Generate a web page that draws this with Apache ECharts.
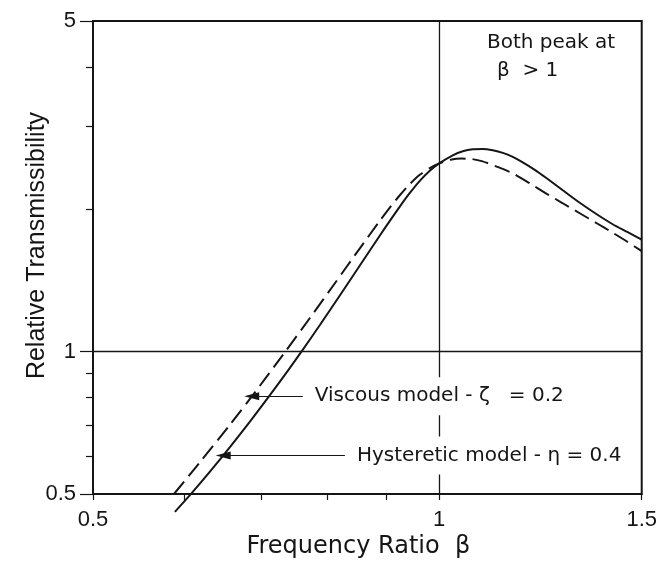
<!DOCTYPE html>
<html>
<head>
<meta charset="utf-8">
<script src="https://cdn.jsdelivr.net/npm/echarts@6/dist/echarts.min.js"></script>
<style>
  html, body { margin: 0; padding: 0; background: #fff; }
  #chart { width: 660px; height: 567px; }
</style>
</head>
<body>
<div id="chart"></div>
<script>
// Hysteretic model (eta = 0.4): frequency ratio and relative transmissibility
const hystBeta = [0.5891, 0.6095, 0.6319, 0.6577, 0.6846, 0.7125, 0.7416, 0.7619, 0.7875, 0.8196, 0.8531, 0.8880,
                  0.9059, 0.9242, 0.9429, 0.9619, 0.9814, 1.0000, 1.0276, 1.0484, 1.0696, 1.0912, 1.1133, 1.1358,
                  1.1587, 1.1821, 1.2109, 1.2402, 1.2807, 1.3250, 1.3708, 1.4154, 1.4586, 1.5000];
const hystT    = [0.4584, 0.5027, 0.5573, 0.6281, 0.7113, 0.8088, 0.9240, 1.0134, 1.1383, 1.3145, 1.5209, 1.7597,
                  1.8900, 2.0261, 2.1647, 2.2968, 2.4125, 2.5009, 2.6000, 2.6511, 2.6770, 2.6809, 2.6640, 2.6318,
                  2.5811, 2.5131, 2.4230, 2.3249, 2.1932, 2.0638, 1.9516, 1.8590, 1.7881, 1.7241];

// Viscous model (zeta = 0.2)
const viscBeta = [0.5880, 0.6194, 0.6577, 0.6915, 0.7342, 0.7719, 0.8115, 0.8531, 0.8880, 0.9059, 0.9242, 0.9429,
                  0.9619, 0.9814, 1.0000, 1.0256, 1.0463, 1.0674, 1.0890, 1.1222, 1.1587, 1.1988, 1.2402, 1.2807,
                  1.3250, 1.3708, 1.4154, 1.4586, 1.5000];
const viscT    = [0.5000, 0.5836, 0.7004, 0.8202, 0.9973, 1.1777, 1.3948, 1.6535, 1.8910, 2.0163, 2.1406, 2.2603,
                  2.3648, 2.4443, 2.5009, 2.5488, 2.5587, 2.5537, 2.5277, 2.4610, 2.3822, 2.2692, 2.1562, 2.0589,
                  1.9611, 1.8681, 1.7837, 1.7049, 1.6304];

// Axis ticks and labels
const xLabels = [0.5, 1, 1.5];
const xTicks = [0.5, 0.6, 0.7, 0.8, 0.9, 1, 1.5];
const yLabels = [0.5, 1, 5];
const yMinorTicks = [0.6, 0.7, 0.8, 0.9, 2, 3, 4];

// Leader lines: from the label end [beta, T] to the tip on the curve
const viscLeader = { name: 'Viscous model - ζ   = 0.2', from: [0.761, 0.805], to: [0.687, 0.805] };
const hystLeader = { name: 'Hysteretic model - η = 0.4', from: [0.828, 0.603], to: [0.6489, 0.603] };

const ink = '#151515';
const pairs = (xs, ys) => xs.map((x, i) => [x, ys[i]]);

const chart = echarts.init(document.getElementById('chart'), null, { renderer: 'canvas' });

chart.setOption({
  backgroundColor: '#ffffff',
  animation: false,
  grid: {
    left: 93, right: 18, top: 21, bottom: 73,
    show: true, borderColor: ink, borderWidth: 2, backgroundColor: 'transparent'
  },
  xAxis: {
    type: 'log', logBase: 10, min: 0.5, max: 1.5,
    name: 'Frequency Ratio  β', nameLocation: 'middle', nameGap: 41, nameMoveOverlap: false,
    nameTextStyle: { fontFamily: 'DejaVu Sans', fontSize: 24, color: ink, padding: [0, 18, 0, 0] },
    axisLine: { show: true, lineStyle: { color: ink, width: 2 } },
    axisTick: { show: true, customValues: xTicks, length: 6, lineStyle: { color: ink, width: 1.2 } },
    axisLabel: { show: true, customValues: xLabels, margin: 15, fontFamily: 'Liberation Sans', fontSize: 22, color: ink,
                 formatter: v => String(+v.toFixed(2)) },
    splitLine: { show: false }, minorTick: { show: false }
  },
  yAxis: [
    {
      type: 'log', logBase: 10, min: 0.5, max: 5,
      name: 'Relative Transmissibility', nameLocation: 'middle', nameGap: 43, nameRotate: 90, nameMoveOverlap: false,
      nameTextStyle: { fontFamily: 'Liberation Sans', fontSize: 25, color: ink, padding: [0, 0, 0, 24] },
      axisLine: { show: true, lineStyle: { color: ink, width: 2 } },
      axisTick: { show: true, customValues: yLabels, length: 13, lineStyle: { color: ink, width: 1.2 } },
      axisLabel: { show: true, customValues: yLabels, margin: 17, fontFamily: 'Liberation Sans', fontSize: 22, color: ink,
                   formatter: v => String(+v.toFixed(2)) },
      splitLine: { show: false }, minorTick: { show: false }
    },
    {
      type: 'log', logBase: 10, min: 0.5, max: 5, position: 'left',
      axisLine: { show: false },
      axisTick: { show: true, customValues: yMinorTicks, length: 7, lineStyle: { color: ink, width: 1.2 } },
      axisLabel: { show: false },
      splitLine: { show: false }, minorTick: { show: false }
    }
  ],
  series: [
    {
      // reference lines at beta = 1 and T = 1
      type: 'line', data: [], silent: true, z: 1,
      markLine: {
        silent: true, symbol: 'none', z: 1,
        label: { show: false },
        lineStyle: { color: ink, width: 1.3, type: 'solid' },
        data: [{ xAxis: 1 }, { yAxis: 1 }]
      }
    },
    {
      name: 'Hysteretic', type: 'line', data: pairs(hystBeta, hystT),
      showSymbol: false, symbol: 'none', smooth: 0.25, clip: false, z: 3,
      lineStyle: { color: ink, width: 2 }
    },
    {
      name: 'Viscous', type: 'line', data: pairs(viscBeta, viscT),
      showSymbol: false, symbol: 'none', smooth: 0.25, clip: false, z: 3,
      lineStyle: { color: ink, width: 2, type: [16, 7] }
    },
    {
      // annotation leaders with labels
      type: 'line', data: [], silent: true, z: 10,
      markLine: {
        silent: true, z: 10,
        symbol: ['none', 'path://M0,0L4,15L-4,15Z'], symbolSize: 15, symbolKeepAspect: true,
        lineStyle: { color: ink, width: 1.2, type: 'solid' },
        label: {
          show: true, position: 'start', formatter: '{b}', distance: 8,
          fontFamily: 'DejaVu Sans', fontSize: 20, color: ink,
          backgroundColor: '#ffffff', padding: [9, 4, 9, 4]
        },
        data: [
          [{ name: viscLeader.name, coord: viscLeader.from }, { coord: viscLeader.to }],
          [{ name: hystLeader.name, coord: hystLeader.from }, { coord: hystLeader.to }]
        ]
      }
    }
  ],
  graphic: [
    { type: 'text', left: 487, top: 33, z: 20,
      style: { text: 'Both peak at', font: '20px "DejaVu Sans"', fill: ink } },
    { type: 'text', left: 497, top: 61, z: 20,
      style: { text: 'β  > 1', font: '20px "DejaVu Sans"', fill: ink } }
  ]
});
</script>
</body>
</html>
